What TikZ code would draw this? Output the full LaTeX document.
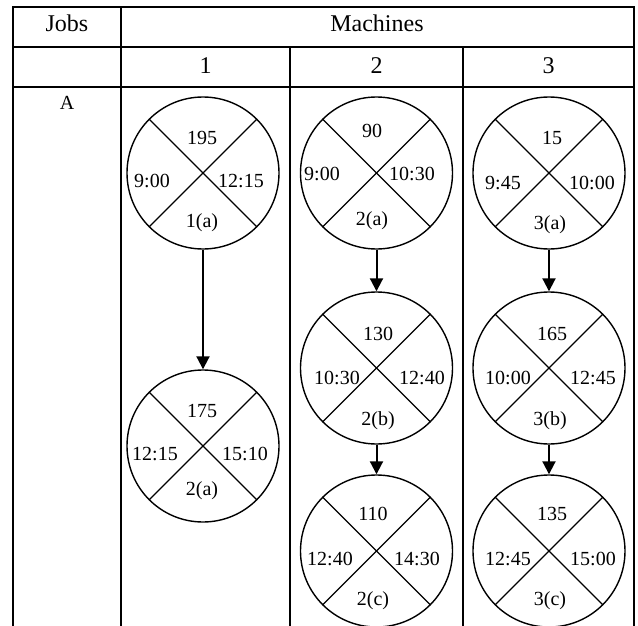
\documentclass[tikz,border=0pt]{standalone}
\usepackage{fontspec}
\setmainfont{Liberation Serif}
\usetikzlibrary{arrows.meta}
\newcommand\jobcircle[3]{%
  \node[jobcirc] (#1) at (#2,#3) {};
  \draw[xline] (#1.135) -- (#1.-45);
  \draw[xline] (#1.45) -- (#1.-135);
}
\begin{document}
\begin{tikzpicture}[x=1pt,y=-1pt,
  grid/.style={line width=1.8pt, line cap=rect},
  jobcirc/.style={circle, draw, line width=1.4pt, minimum size=152pt, inner sep=0pt},
  xline/.style={line width=1.4pt},
  lbl/.style={inner sep=0pt, anchor=center, text height=14pt, text depth=0pt, font=\fontsize{20pt}{24pt}\selectfont},
  head/.style={inner sep=0pt, anchor=center, text height=16pt, text depth=0pt, font=\fontsize{24pt}{28pt}\selectfont},
  arr/.style={line width=2pt, -{Triangle[length=13pt,width=13pt]}}]
\useasboundingbox (0,0) rectangle (638,626);
% table grid
\draw[grid] (13,626) -- (13,7) -- (634,7) -- (634,626);
\draw[grid] (13,47) -- (634,47);
\draw[grid] (13,87) -- (634,87);
\draw[grid] (121,7) -- (121,626);
\draw[grid] (290,47) -- (290,626);
\draw[grid] (463,47) -- (463,626);
% headers
\node[head] (hjobs) at (67,24) {Jobs};
\node[head] (hmach) at (377,24) {Machines};
\node[head] (hm1) at (205.5,66) {1};
\node[head] (hm2) at (376.5,66) {2};
\node[head] (hm3) at (548.5,66) {3};
\node[lbl] (jobA) at (67,103) {A};
% circles
\jobcircle{c1a}{203}{173}
\jobcircle{c1b}{203}{446}
\jobcircle{c2a}{376.5}{173}
\jobcircle{c2b}{376.5}{368}
\jobcircle{c2c}{376.5}{551}
\jobcircle{c3a}{549}{173}
\jobcircle{c3b}{549}{368}
\jobcircle{c3c}{549}{551}
% labels machine 1
\node[lbl] (c1a-t) at (202,138) {195};
\node[lbl] (c1a-l) at (152,180) {9:00};
\node[lbl] (c1a-r) at (241,180) {12:15};
\node[lbl] (c1a-b) at (202,220) {1(a)};
\node[lbl] (c1b-t) at (202,410) {175};
\node[lbl] (c1b-l) at (155,453) {12:15};
\node[lbl] (c1b-r) at (245,453) {15:10};
\node[lbl] (c1b-b) at (202,488) {2(a)};
% labels machine 2
\node[lbl] (c2a-t) at (372,131) {90};
\node[lbl] (c2a-l) at (322,173) {9:00};
\node[lbl] (c2a-r) at (412,173) {10:30};
\node[lbl] (c2a-b) at (372,218) {2(a)};
\node[lbl] (c2b-t) at (378,333) {130};
\node[lbl] (c2b-l) at (337,377) {10:30};
\node[lbl] (c2b-r) at (422,377) {12:40};
\node[lbl] (c2b-b) at (378,418) {2(b)};
\node[lbl] (c2c-t) at (373,513) {110};
\node[lbl] (c2c-l) at (330,558) {12:40};
\node[lbl] (c2c-r) at (417,558) {14:30};
\node[lbl] (c2c-b) at (373,598) {2(c)};
% labels machine 3
\node[lbl] (c3a-t) at (552,137) {15};
\node[lbl] (c3a-l) at (503,182) {9:45};
\node[lbl] (c3a-r) at (592,182) {10:00};
\node[lbl] (c3a-b) at (550,222) {3(a)};
\node[lbl] (c3b-t) at (552,333) {165};
\node[lbl] (c3b-l) at (508,377) {10:00};
\node[lbl] (c3b-r) at (593,377) {12:45};
\node[lbl] (c3b-b) at (550,418) {3(b)};
\node[lbl] (c3c-t) at (552,513) {135};
\node[lbl] (c3c-l) at (508,558) {12:45};
\node[lbl] (c3c-r) at (593,558) {15:00};
\node[lbl] (c3c-b) at (550,598) {3(c)};
% arrows
\draw[arr] (c1a) -- (c1b);
\draw[arr] (c2a) -- (c2b);
\draw[arr] (c2b) -- (c2c);
\draw[arr] (c3a) -- (c3b);
\draw[arr] (c3b) -- (c3c);
\end{tikzpicture}
\end{document}
